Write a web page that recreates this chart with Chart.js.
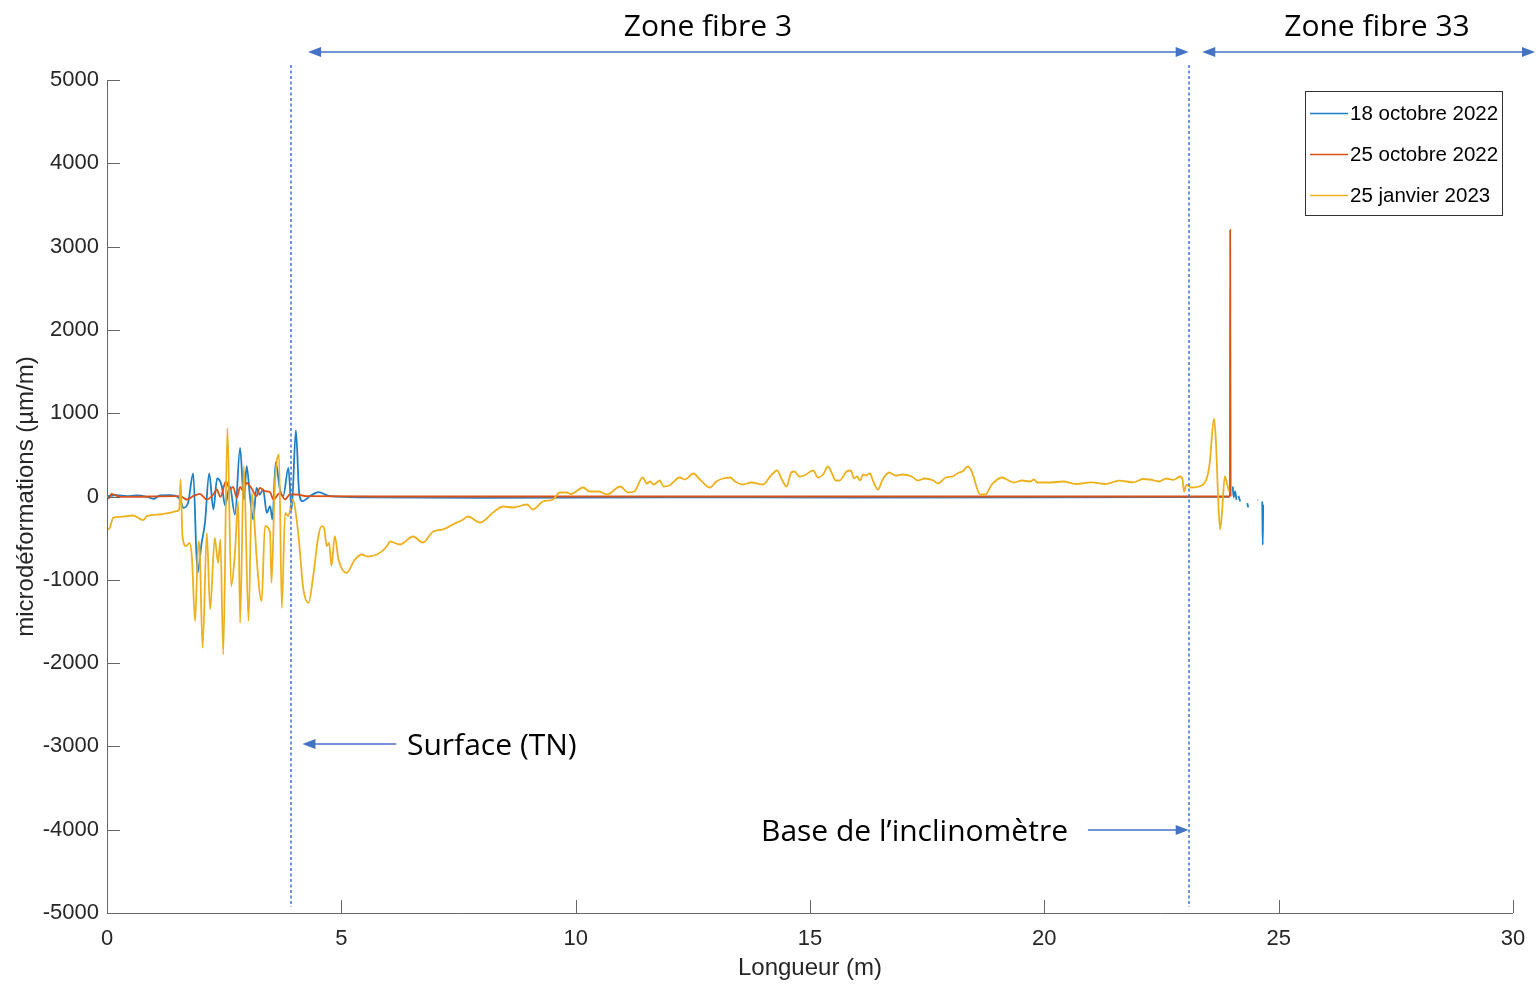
<!DOCTYPE html>
<html>
<head>
<meta charset="utf-8">
<script src="https://cdn.jsdelivr.net/npm/chart.js@4.4.1/dist/chart.umd.min.js"></script>
<style>
  html, body { margin: 0; padding: 0; background: #fff; }
  canvas { display: block; }
</style>
</head>
<body>
<canvas id="chart" width="1536" height="985"></canvas>
<script>
// Axes
const xTicks = [0, 5, 10, 15, 20, 25, 30];
const yTicks = [-5000, -4000, -3000, -2000, -1000, 0, 1000, 2000, 3000, 4000, 5000];

// 18 octobre 2022
const blueX = [0.02, 0.21, 0.42, 0.63, 0.85, 0.99, 1.13, 1.34, 1.56, 1.63, 1.73, 1.84, 1.93, 2.02, 2.09, 2.18,
  2.27, 2.35, 2.45, 2.52, 2.62, 2.73, 2.84, 2.92, 2.98, 3.05, 3.12, 3.19, 3.26, 3.33, 3.41, 3.48, 3.53,
  3.60, 3.69, 3.76, 3.87, 3.94, 4.03, 4.10, 4.17, 4.33, 4.51, 4.76, 5.5, 8, 12, 16, 20, 23.95,
  23.99, 24.02, 24.04, 24.07, 24.10, 24.12, 24.14, 24.18, 24.2, 24.33, 24.35, 24.4, 24.55, 24.56, 24.6, 24.65, 24.66, 24.67];
const blueY = [4, 16, 4, 12, -4, -28, 12, 16, -36, -136, -76, 276, -916, -556, -316, 276,
  -156, 216, 124, -108, 124, -216, 584, -36, 364, 4, -276, 104, 24, 84, -196, -116, -276,
  412, 84, 4, 344, -156, 796, 44, -56, 4, 52, 4, -10, -15, -10, -12, -10, -5,
  null, 120, -10, 60, -40, null, 10, -60, null, -80, -130, null, -40, -45, null, -60, -580, -100];

// 25 octobre 2022
const redX = [0.03, 0.10, 0.28, 1.56, 1.70, 1.84, 1.98, 2.13, 2.27, 2.34, 2.42, 2.54, 2.62, 2.69, 2.77, 2.84,
  2.91, 2.98, 3.09, 3.19, 3.26, 3.37, 3.48, 3.55, 3.69, 3.80, 3.90, 4.05, 4.26, 6, 12, 18, 23.96, 23.965, 23.975];
const redY = [-30, 32, -4, 4, -36, 4, 32, -36, 24, 84, -4, 184, 84, 116, -16, 116,
  64, 164, 92, 4, 104, 64, 52, -36, 44, -36, 24, 24, 4, 0, 0, 0, 0, 3200, 0];

// 25 janvier 2023
const yellowX = [0.00, 0.06, 0.13, 0.28, 0.56, 0.77, 0.85, 1.13, 1.34, 1.49, 1.54, 1.57, 1.61, 1.69, 1.76, 1.81,
  1.88, 1.95, 1.98, 2.04, 2.13, 2.20, 2.30, 2.37, 2.42, 2.48, 2.57, 2.65, 2.73, 2.80, 2.84, 2.92,
  3.02, 3.09, 3.16, 3.19, 3.30, 3.37, 3.48, 3.51, 3.58, 3.67, 3.73, 3.80, 3.87, 3.96, 4.08, 4.19,
  4.30, 4.40, 4.51, 4.58, 4.63, 4.69, 4.74, 4.79, 4.86, 4.94, 5.11, 5.29, 5.44, 5.55, 5.76, 5.97,
  6.04, 6.25, 6.53, 6.74, 6.96, 7.17, 7.38, 7.60, 7.70, 7.96, 8.24, 8.45, 8.66, 8.96, 9.09, 9.30,
  9.52, 9.66, 9.80, 9.90, 10.16, 10.30, 10.50, 10.67, 10.95, 11.12, 11.25, 11.43, 11.52, 11.59, 11.66, 11.80,
  11.87, 12.00, 12.22, 12.33, 12.51, 12.65, 12.87, 13.00, 13.15, 13.30, 13.40, 13.57, 13.75, 14.00, 14.15, 14.30,
  14.40, 14.50, 14.60, 14.67, 14.77, 14.88, 15.07, 15.17, 15.28, 15.38, 15.45, 15.55, 15.63, 15.78, 15.87, 15.94,
  16.00, 16.07, 16.13, 16.19, 16.28, 16.35, 16.45, 16.55, 16.69, 16.82, 16.97, 17.17, 17.30, 17.45, 17.63, 17.73,
  17.90, 18.04, 18.18, 18.25, 18.37, 18.45, 18.63, 18.74, 18.88, 19.10, 19.24, 19.35, 19.52, 19.70, 19.78, 19.85,
  20.12, 20.40, 20.70, 21.00, 21.30, 21.60, 21.90, 22.10, 22.25, 22.45, 22.60, 22.75, 22.90, 22.95, 22.98, 23.03,
  23.15, 23.30, 23.47, 23.53, 23.62, 23.66, 23.70, 23.75, 23.79, 23.85, 23.90, 23.94];
const yellowY = [-400, -376, -256, -244, -228, -284, -236, -216, -196, -176, -156, 204, -476, -596, -556, -716,
  -1496, -536, -676, -1816, -436, -1356, -496, -796, -516, -1896, 824, -1076, -676, -56, -1516, 364,
  -1496, 44, -436, -716, -1256, -356, -436, -1036, 124, 504, -1336, -196, -236, -36, -436, -1116,
  -1276, -956, -476, -356, -376, -596, -556, -836, -476, -756, -916, -756, -696, -720, -696, -600,
  -540, -576, -480, -552, -420, -396, -336, -276, -240, -312, -192, -120, -132, -96, -156, -60,
  -36, 48, 48, 30, 108, 60, 60, 24, 120, 48, 60, 228, 156, 180, 144, 192,
  120, 132, 228, 204, 276, 204, 108, 180, 216, 228, 180, 144, 168, 144, 240, 312,
  204, 120, 288, 300, 240, 252, 312, 228, 264, 360, 300, 192, 192, 300, 312, 216,
  240, 192, 264, 252, 276, 180, 84, 204, 288, 252, 264, 240, 192, 216, 192, 156,
  228, 240, 288, 300, 360, 300, 24, 24, 144, 228, 192, 168, 192, 180, 204, 168,
  168, 180, 150, 170, 150, 190, 170, 210, 204, 180, 216, 200, 240, 200, 60, 140,
  108, 120, 228, 408, 936, 680, 100, -396, -200, 240, 150, 60];

const seriesNames = ['18 octobre 2022', '25 octobre 2022', '25 janvier 2023'];
const seriesColors = ['#1f7fc4', '#D95319', '#EDB120'];

const toPoints = (xs, ys) => xs.map((x, i) => ({ x: x, y: ys[i] }));

const ANNOT_BLUE = '#4472C4';
const AXIS_COLOR = '#666666';
const TEXT_COLOR = '#262626';

function arrowHead(ctx, tipX, tipY, dir) {
  // dir = -1 pointe à gauche, 1 pointe à droite
  ctx.beginPath();
  ctx.moveTo(tipX, tipY);
  ctx.lineTo(tipX - dir * 13, tipY - 5);
  ctx.lineTo(tipX - dir * 13, tipY + 5);
  ctx.closePath();
  ctx.fill();
}

function hArrow(ctx, x1, x2, y, headLeft, headRight) {
  ctx.beginPath();
  ctx.moveTo(x1 + (headLeft ? 8 : 0), y);
  ctx.lineTo(x2 - (headRight ? 8 : 0), y);
  ctx.stroke();
  if (headLeft) arrowHead(ctx, x1, y, -1);
  if (headRight) arrowHead(ctx, x2, y, 1);
}

const annotPlugin = {
  id: 'annot',
  afterDraw(chart) {
    const ctx = chart.ctx;
    const xs = chart.scales.x, ys = chart.scales.y;
    const area = chart.chartArea;

    // axes + graduations vers l'intérieur
    ctx.save();
    ctx.strokeStyle = AXIS_COLOR;
    ctx.lineWidth = 1;
    ctx.beginPath();
    ctx.moveTo(area.left + 0.5, area.top);
    ctx.lineTo(area.left + 0.5, area.bottom + 0.5);
    ctx.lineTo(area.right, area.bottom + 0.5);
    xTicks.forEach(v => {
      const px = Math.round(xs.getPixelForValue(v)) + 0.5;
      ctx.moveTo(px, area.bottom);
      ctx.lineTo(px, area.bottom - 13);
    });
    yTicks.forEach(v => {
      const py = Math.round(ys.getPixelForValue(v)) + 0.5;
      ctx.moveTo(area.left, py);
      ctx.lineTo(area.left + 13, py);
    });
    ctx.stroke();
    ctx.restore();

    // lignes pointillées (surface, base)
    ctx.save();
    ctx.strokeStyle = '#3f74d0';
    ctx.lineWidth = 1.5;
    ctx.setLineDash([3, 2.5]);
    [3.93, 23.08].forEach(v => {
      const px = Math.round(xs.getPixelForValue(v));
      ctx.beginPath();
      ctx.moveTo(px, 65);
      ctx.lineTo(px, 907);
      ctx.stroke();
    });
    ctx.restore();

    // flèches
    ctx.save();
    ctx.strokeStyle = ANNOT_BLUE;
    ctx.fillStyle = ANNOT_BLUE;
    ctx.lineWidth = 1.3;
    hArrow(ctx, xs.getPixelForValue(4.29), xs.getPixelForValue(23.08), 52, true, true);
    hArrow(ctx, xs.getPixelForValue(23.37), 1535, 52, true, true);
    hArrow(ctx, xs.getPixelForValue(4.17), xs.getPixelForValue(6.17), 744, true, false);
    hArrow(ctx, xs.getPixelForValue(20.93), xs.getPixelForValue(23.08), 830, false, true);

    ctx.fillStyle = '#000';
    ctx.font = '30px "Open Sans"';
    ctx.textBaseline = 'middle';
    ctx.textAlign = 'center';
    ctx.fillText('Zone fibre 3', 708, 27);
    ctx.fillText('Zone fibre 33', 1377, 27);
    ctx.textAlign = 'left';
    ctx.fillText('Surface (TN)', 407, 746);
    ctx.textAlign = 'right';
    ctx.fillText('Base de l\u2019inclinomètre', 1068, 832);
    ctx.restore();

    // légende
    ctx.save();
    ctx.fillStyle = '#fff';
    ctx.fillRect(1305, 91, 197, 124);
    ctx.strokeStyle = '#333';
    ctx.lineWidth = 1;
    ctx.strokeRect(1305.5, 91.5, 197, 124);
    ctx.font = '20.5px "Liberation Sans", Arial';
    ctx.textBaseline = 'middle';
    ctx.textAlign = 'left';
    seriesNames.forEach((name, i) => {
      const y = 113 + i * 41;
      ctx.strokeStyle = seriesColors[i];
      ctx.lineWidth = 1.5;
      ctx.beginPath();
      ctx.moveTo(1310, y + 0.5);
      ctx.lineTo(1348, y + 0.5);
      ctx.stroke();
      ctx.fillStyle = '#000';
      ctx.fillText(name, 1350, y + 1);
    });
    ctx.restore();
  }
};

const datasets = [
  { label: seriesNames[2], data: toPoints(yellowX, yellowY), borderColor: seriesColors[2] },
  { label: seriesNames[1], data: toPoints(redX, redY), borderColor: seriesColors[1] },
  { label: seriesNames[0], data: toPoints(blueX, blueY), borderColor: seriesColors[0] }
].map(d => Object.assign(d, { borderWidth: 1.8, pointRadius: 0, cubicInterpolationMode: 'monotone', fill: false, spanGaps: false }));

new Chart(document.getElementById('chart'), {
  type: 'line',
  data: { datasets: datasets },
  options: {
    responsive: false,
    animation: false,
    layout: { padding: { top: 80, right: 23, left: 0, bottom: 0 } },
    plugins: { legend: { display: false }, tooltip: { enabled: false } },
    scales: {
      x: {
        type: 'linear',
        min: 0, max: 30,
        afterBuildTicks: s => { s.ticks = xTicks.map(v => ({ value: v })); },
        afterFit: s => { s.height = 72; },
        grid: { display: false },
        border: { display: false },
        ticks: { padding: 5, color: TEXT_COLOR, font: { family: '"Liberation Sans", Arial', size: 22 }, callback: v => String(v) },
        title: { display: true, text: 'Longueur (m)', color: TEXT_COLOR, font: { family: '"Liberation Sans", Arial', size: 24 }, padding: { top: 0, bottom: 2 } }
      },
      y: {
        min: -5000, max: 5000,
        afterBuildTicks: s => { s.ticks = yTicks.map(v => ({ value: v })); },
        afterFit: s => { s.width = 107; },
        grid: { display: false },
        border: { display: false },
        ticks: { padding: 0, color: TEXT_COLOR, font: { family: '"Liberation Sans", Arial', size: 22 }, callback: v => String(v) },
        title: { display: true, text: 'microdéformations (µm/m)', color: TEXT_COLOR, font: { family: '"Liberation Sans", Arial', size: 24 }, padding: { top: 12, bottom: 0 } }
      }
    }
  },
  plugins: [annotPlugin]
});
</script>
</body>
</html>
